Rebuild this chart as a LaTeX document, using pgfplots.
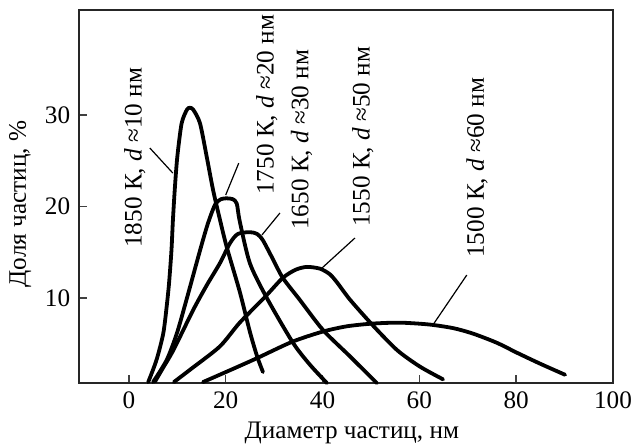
\documentclass[border=0pt]{standalone}
\usepackage{fontspec}
\setmainfont{Liberation Serif}
\usepackage{pgfplots}
\pgfplotsset{compat=1.18}

\begin{document}
\fontsize{12.6}{14}\selectfont
\begin{tikzpicture}
\begin{axis}[
  scale only axis,
  width=267pt, height=186.5pt,
  xmin=-10.3, xmax=100, ymin=0.7, ymax=41.5,
  xtick={0,20,...,100}, ytick={10,20,30},
  tick pos=left, tick align=inside,
  major tick length=4pt,
  axis line style={line width=0.6pt, black!85},
  every tick/.style={line width=0.8pt, black!75},
  /pgf/number format/assume math mode=true,
  xlabel={Диаметр частиц, нм},
  ylabel={Доля частиц, \%},
  xlabel style={at={(rel axis cs:0.511,-0.134)}, anchor=center},
  ylabel style={at={(rel axis cs:-0.11,0.48)}, anchor=center},
  cycle list={{black,solid}},
  no markers,
  every axis plot/.append style={line width=1.9pt, smooth, tension=0.45,
    line join=round, line cap=round},
  clip=false,
]
% 1850 K
\addplot coordinates {(4.0,0.8) (5.7,3.2) (7.1,6.1) (7.8,9.0) (8.3,11.6) (8.8,15.2)
  (9.1,18.5) (9.5,22.0) (10.0,25.4) (10.9,29.1) (12.0,30.6) (12.6,30.8) (13.3,30.6) (14.7,29.1)
  (16.1,25.4) (17.4,21.8) (18.8,18.6) (20.2,15.6) (22.9,10.7) (25.0,6.3) (26.5,3.6) (27.7,1.9)};
% 1750 K
\addplot coordinates {(5.0,0.8) (7.8,3.2) (9.9,6.1) (11.9,9.8) (14.7,15.2) (16.3,18.1)
  (17.8,20.2) (19.0,20.8) (20.2,20.9) (21.5,20.8) (22.3,20.3) (22.9,18.4) (25.0,13.8)
  (28.5,10.0) (33.9,5.1) (37.4,2.7) (40.9,0.7)};
% 1650 K
\addplot coordinates {(5.4,0.85) (7.0,2.3) (9.2,4.3) (13.3,8.7) (16.1,11.4) (18.8,13.8) (20.9,16.0)
  (22.5,17.0) (25.0,17.2) (26.5,17.0) (27.7,16.3) (29.8,14.2) (31.8,12.2) (35.3,9.8)
  (40.1,6.5) (45.7,3.6) (51.2,0.7)};
% 1550 K
\addplot coordinates {(9.3,0.8) (13.0,2.3) (18.8,4.7) (22.9,7.3) (28.1,10.1) (31.8,12.2) (34.5,13.1)
  (36.8,13.4) (39.5,13.2) (41.5,12.6) (43.0,11.7) (45.7,9.8) (50.4,7.0) (55.4,4.3)
  (60.1,2.5) (64.9,1.1)};
% 1500 K
\addplot coordinates {(15.3,0.8) (20.9,2.1) (26.4,3.4) (33.7,5.2) (39.9,6.3) (45.0,6.9)
  (50.4,7.2) (56.0,7.3) (62.0,7.1) (67.0,6.7) (71.1,6.1) (76.0,5.1) (80.2,4.0)
  (85.0,2.8) (90.1,1.6)};

% leader lines
\draw[line width=0.6pt] (axis cs:4.34,26.4) -- (axis cs:9.09,23.66);
\draw[line width=0.6pt] (axis cs:22.7,24.75) -- (axis cs:20.0,21.26);
\draw[line width=0.6pt] (axis cs:31.2,19.29) -- (axis cs:27.5,16.9);
\draw[line width=0.6pt] (axis cs:46.7,16.56) -- (axis cs:39.9,13.28);
\draw[line width=0.6pt] (axis cs:69.8,12.51) -- (axis cs:62.8,7.05);

% curve labels
\node[rotate=90, anchor=west, inner sep=0pt] at (axis cs:1.24,15.46) {1850 К, \textit{d} ≈10 нм};
\node[rotate=90, anchor=west, inner sep=0pt] at (axis cs:28.5,21.26) {1750 К, \textit{d} ≈20 нм};
\node[rotate=90, anchor=west, inner sep=0pt] at (axis cs:35.7,17.43) {1650 К, \textit{d} ≈30 нм};
\node[rotate=90, anchor=west, inner sep=0pt] at (axis cs:48.3,17.76) {1550 К, \textit{d} ≈50 нм};
\node[rotate=90, anchor=west, inner sep=0pt] at (axis cs:71.9,14.37) {1500 К, \textit{d} ≈60 нм};

\coordinate (tl) at (rel axis cs:-0.1479,1.0268);
\coordinate (br) at (rel axis cs:1.0337,-0.1662);
\end{axis}
\pgfresetboundingbox
\path[use as bounding box] (tl) rectangle (br);
\end{tikzpicture}
\end{document}
